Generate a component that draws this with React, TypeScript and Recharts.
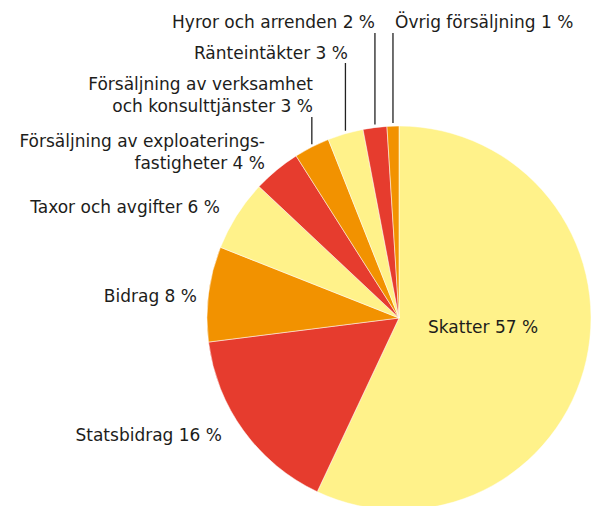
import { PieChart, Pie, Cell } from "recharts";

const categories = [
  "Skatter",
  "Statsbidrag",
  "Bidrag",
  "Taxor och avgifter",
  "Försäljning av exploateringsfastigheter",
  "Försäljning av verksamhet och konsulttjänster",
  "Ränteintäkter",
  "Hyror och arrenden",
  "Övrig försäljning",
];
const shares = [57, 16, 8, 6, 4, 3, 3, 2, 1];
const labelText = [
  ["Skatter"],
  ["Statsbidrag"],
  ["Bidrag"],
  ["Taxor och avgifter"],
  ["Försäljning av exploaterings-", "fastigheter"],
  ["Försäljning av verksamhet", "och konsulttjänster"],
  ["Ränteintäkter"],
  ["Hyror och arrenden"],
  ["Övrig försäljning"],
];

const YELLOW = "#FFF28A";
const RED = "#E63C2E";
const ORANGE = "#F29200";
const COLORS = [YELLOW, RED, ORANGE, YELLOW, RED, ORANGE, YELLOW, RED, ORANGE];

// label placement: x, first baseline, anchor, top of leader line (if any)
const LABEL_POS: { x: number; y: number; anchor: "start" | "end"; lead?: number }[] = [
  { x: 428, y: 333, anchor: "start" },
  { x: 222, y: 441, anchor: "end" },
  { x: 197, y: 302, anchor: "end" },
  { x: 220, y: 213, anchor: "end" },
  { x: 265, y: 147, anchor: "end" },
  { x: 313, y: 90, anchor: "end", lead: 117 },
  { x: 348, y: 59, anchor: "end", lead: 63 },
  { x: 375, y: 28, anchor: "end", lead: 33 },
  { x: 395, y: 28, anchor: "start", lead: 33 },
];

const data = categories.map((name, i) => ({ name, value: shares[i] }));

const W = 592;
const H = 506;
const CX = 399;
const CY = 318;
const R = 192;
const RAD = Math.PI / 180;

function renderLabel(props: any) {
  const { index, midAngle } = props;
  const cx = typeof props.cx === "number" ? props.cx : CX;
  const cy = typeof props.cy === "number" ? props.cy : CY;
  const r = typeof props.outerRadius === "number" ? props.outerRadius : R;
  const pos = LABEL_POS[index];
  const lines = labelText[index].slice();
  lines[lines.length - 1] = `${lines[lines.length - 1]} ${shares[index]} %`;
  const ex = cx + r * Math.cos(-midAngle * RAD);
  const ey = cy + (r + 3) * Math.sin(-midAngle * RAD);
  return (
    <g key={`lbl-${index}`}>
      {pos.lead !== undefined && (
        <line x1={ex} y1={pos.lead} x2={ex} y2={ey} stroke="#222" strokeWidth={1.3} />
      )}
      <text
        x={pos.x}
        y={pos.y}
        textAnchor={pos.anchor}
        fill="#1d1d1b"
        fontSize={17}
        fontFamily="'DejaVu Sans', sans-serif"
      >
        {lines.map((t, k) => (
          <tspan key={k} x={pos.x} dy={k === 0 ? 0 : 21.5}>
            {t}
          </tspan>
        ))}
      </text>
    </g>
  );
}

export default function App() {
  return (
    <div style={{ width: W, height: H, background: "#fff" }}>
      <style>{`body{margin:0}`}</style>
      <PieChart width={W} height={H} margin={{ top: 0, right: 0, bottom: 0, left: 0 }}>
        <Pie
          data={data}
          dataKey="value"
          nameKey="name"
          cx={CX}
          cy={CY}
          outerRadius={R}
          startAngle={90}
          endAngle={-270}
          stroke="#fff"
          strokeWidth={0.5}
          label={renderLabel}
          labelLine={false}
          isAnimationActive={false}
        >
          {data.map((_, i) => (
            <Cell key={i} fill={COLORS[i]} />
          ))}
        </Pie>
      </PieChart>
    </div>
  );
}
